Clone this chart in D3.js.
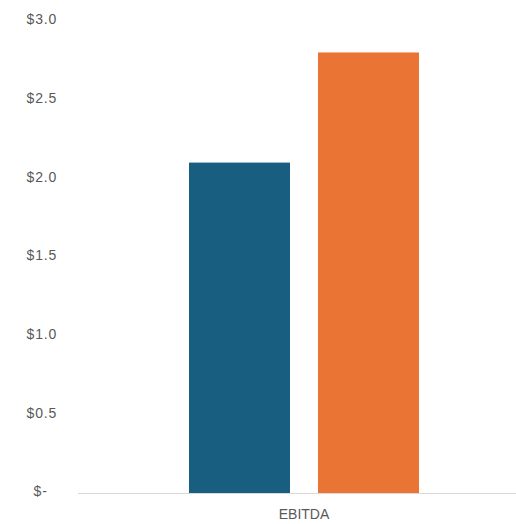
<!DOCTYPE html>
<html><head><meta charset="utf-8">
<script src="https://cdn.jsdelivr.net/npm/d3@7"></script>
<style>html,body{margin:0;padding:0;background:#fff;}svg{display:block;}</style>
</head><body>
<script>
const categories = ["EBITDA"];
const seriesNames = ["Series A", "Series B"];
const seriesValues = [2.1, 2.8];
const seriesColors = ["#185E80", "#E97434"];
const yTicks = [0, 0.5, 1.0, 1.5, 2.0, 2.5, 3.0];
const yTickLabels = ["$-\u00a0\u00a0", "$0.5", "$1.0", "$1.5", "$2.0", "$2.5", "$3.0"];

const W = 516, H = 524;
const svg = d3.select("body").append("svg").attr("width", W).attr("height", H);

const y = d3.scaleLinear().domain([0, 3]).range([493, 21]);
const x0 = d3.scaleBand().domain(categories).range([78, 530]).paddingInner(0).paddingOuter(0.4826);
const x1 = d3.scaleBand().domain(seriesNames).range([0, x0.bandwidth()]).paddingInner(0.217).paddingOuter(0);

// bars
const g = svg.append("g");
categories.forEach(c => {
  g.selectAll("rect.b").data(seriesNames.map((s, i) => ({s, v: seriesValues[i], c: seriesColors[i]})))
    .enter().append("rect")
    .attr("x", d => x0(c) + x1(d.s))
    .attr("width", x1.bandwidth())
    .attr("y", d => y(d.v))
    .attr("height", d => y(0) - y(d.v))
    .attr("fill", d => d.c);
});

// x axis line
svg.append("line").attr("x1", 78).attr("x2", 516).attr("y1", y(0) + 0.5).attr("y2", y(0) + 0.5)
  .attr("stroke", "#d9d9d9").attr("stroke-width", 1);

// y axis labels
const yAxis = d3.axisLeft(y).tickValues(yTicks).tickSize(0).tickPadding(0)
  .tickFormat((d, i) => yTickLabels[i]);
const ya = svg.append("g").attr("transform", "translate(57,-2)").call(yAxis);
ya.select(".domain").remove();
ya.selectAll("text").attr("fill", "#595959").style("font-family", "Arial, 'Liberation Sans', sans-serif")
  .style("font-size", "14px").style("letter-spacing", "0.8px").attr("dy", "0.35em");

// x axis labels
const xAxis = d3.axisBottom(x0).tickSize(0).tickPadding(0);
const xa = svg.append("g").attr("transform", "translate(0,509)").call(xAxis);
xa.select(".domain").remove();
xa.selectAll("text").attr("fill", "#595959").style("font-family", "Arial, 'Liberation Sans', sans-serif")
  .style("font-size", "14px").attr("dy", "0.71em");
</script>
</body></html>
